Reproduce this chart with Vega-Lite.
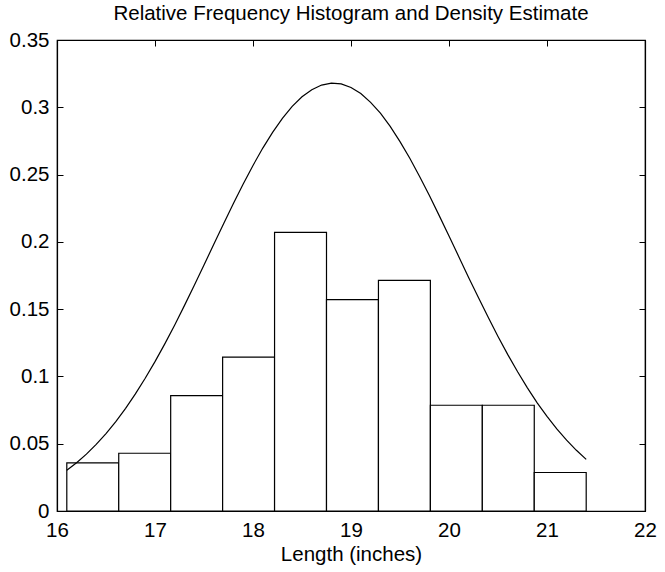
{
  "$schema": "https://vega.github.io/schema/vega-lite/v6.json",
  "width": 588,
  "height": 471,
  "autosize": {"type": "none"},
  "padding": {"left": 57, "top": 40, "right": 20, "bottom": 61},
  "background": "white",
  "title": {
    "text": "Relative Frequency Histogram and Density Estimate",
    "font": "Liberation Sans",
    "fontSize": 20.5,
    "fontWeight": "normal",
    "color": "black",
    "anchor": "middle",
    "offset": 6
  },
  "config": {
    "view": {"stroke": "black", "strokeWidth": 1.2},
    "axis": {
      "grid": false,
      "labelFlush": false,
      "labelOverlap": false,
      "domainColor": "black",
      "domainWidth": 1.2,
      "tickColor": "black",
      "tickWidth": 1,
      "labelFont": "Liberation Sans",
      "labelFontSize": 20.5,
      "labelColor": "black",
      "titleFont": "Liberation Sans",
      "titleFontSize": 20.5,
      "titleFontWeight": "normal",
      "titleColor": "black"
    }
  },
  "datasets": {
    "bins": [
      {"bin_start": 16.1, "bin_end": 16.63, "rel_freq": 0.0357},
      {"bin_start": 16.63, "bin_end": 17.16, "rel_freq": 0.0429},
      {"bin_start": 17.16, "bin_end": 17.69, "rel_freq": 0.0857},
      {"bin_start": 17.69, "bin_end": 18.22, "rel_freq": 0.1143},
      {"bin_start": 18.22, "bin_end": 18.75, "rel_freq": 0.2071},
      {"bin_start": 18.75, "bin_end": 19.28, "rel_freq": 0.1571},
      {"bin_start": 19.28, "bin_end": 19.81, "rel_freq": 0.1714},
      {"bin_start": 19.81, "bin_end": 20.34, "rel_freq": 0.0786},
      {"bin_start": 20.34, "bin_end": 20.87, "rel_freq": 0.0786},
      {"bin_start": 20.87, "bin_end": 21.4, "rel_freq": 0.0286}
    ],
    "density": [
      {"length": 16.1, "density": 0.0303},
      {"length": 16.2, "density": 0.0359},
      {"length": 16.3, "density": 0.0423},
      {"length": 16.4, "density": 0.0495},
      {"length": 16.5, "density": 0.0575},
      {"length": 16.6, "density": 0.0664},
      {"length": 16.7, "density": 0.0763},
      {"length": 16.8, "density": 0.087},
      {"length": 16.9, "density": 0.0986},
      {"length": 17.0, "density": 0.111},
      {"length": 17.1, "density": 0.1242},
      {"length": 17.2, "density": 0.1381},
      {"length": 17.3, "density": 0.1526},
      {"length": 17.4, "density": 0.1676},
      {"length": 17.5, "density": 0.1828},
      {"length": 17.6, "density": 0.1982},
      {"length": 17.7, "density": 0.2135},
      {"length": 17.8, "density": 0.2285},
      {"length": 17.9, "density": 0.243},
      {"length": 18.0, "density": 0.2568},
      {"length": 18.1, "density": 0.2697},
      {"length": 18.2, "density": 0.2814},
      {"length": 18.3, "density": 0.2918},
      {"length": 18.4, "density": 0.3007},
      {"length": 18.5, "density": 0.3078},
      {"length": 18.6, "density": 0.3131},
      {"length": 18.7, "density": 0.3165},
      {"length": 18.8, "density": 0.318},
      {"length": 18.9, "density": 0.3174},
      {"length": 19.0, "density": 0.3147},
      {"length": 19.1, "density": 0.3102},
      {"length": 19.2, "density": 0.3037},
      {"length": 19.3, "density": 0.2956},
      {"length": 19.4, "density": 0.2858},
      {"length": 19.5, "density": 0.2745},
      {"length": 19.6, "density": 0.2621},
      {"length": 19.7, "density": 0.2486},
      {"length": 19.8, "density": 0.2344},
      {"length": 19.9, "density": 0.2195},
      {"length": 20.0, "density": 0.2043},
      {"length": 20.1, "density": 0.189},
      {"length": 20.2, "density": 0.1736},
      {"length": 20.3, "density": 0.1586},
      {"length": 20.4, "density": 0.1439},
      {"length": 20.5, "density": 0.1297},
      {"length": 20.6, "density": 0.1162},
      {"length": 20.7, "density": 0.1035},
      {"length": 20.8, "density": 0.0915},
      {"length": 20.9, "density": 0.0804},
      {"length": 21.0, "density": 0.0703},
      {"length": 21.1, "density": 0.061},
      {"length": 21.2, "density": 0.0526},
      {"length": 21.3, "density": 0.0451},
      {"length": 21.4, "density": 0.0384}
    ]
  },
  "layer": [
    {
      "data": {"name": "bins"},
      "mark": {"type": "rect", "fill": "white", "stroke": "black", "strokeWidth": 1.2},
      "encoding": {
        "x": {
          "field": "bin_start",
          "type": "quantitative",
          "scale": {"domain": [16, 22], "nice": false, "zero": false},
          "axis": {
            "orient": "bottom",
            "values": [16, 17, 18, 19, 20, 21, 22],
            "format": "d",
            "tickSize": -6,
            "labelPadding": 15,
            "title": "Length (inches)",
            "titlePadding": 4
          }
        },
        "x2": {"field": "bin_end"},
        "y": {
          "field": "rel_freq",
          "type": "quantitative",
          "scale": {"domain": [0, 0.35], "nice": false},
          "axis": {
            "orient": "left",
            "values": [0, 0.05, 0.1, 0.15, 0.2, 0.25, 0.3, 0.35],
            "format": ".2~f",
            "tickSize": -6,
            "labelPadding": 14,
            "title": null
          }
        },
        "y2": {"datum": 0}
      }
    },
    {
      "data": {"name": "density"},
      "mark": {"type": "line", "color": "black", "strokeWidth": 1.2},
      "encoding": {
        "x": {
          "field": "length",
          "type": "quantitative",
          "axis": {
            "orient": "top",
            "values": [16, 17, 18, 19, 20, 21, 22],
            "tickSize": -6,
            "labels": false,
            "title": null
          }
        },
        "y": {
          "field": "density",
          "type": "quantitative",
          "axis": {
            "orient": "right",
            "values": [0, 0.05, 0.1, 0.15, 0.2, 0.25, 0.3, 0.35],
            "tickSize": -6,
            "labels": false,
            "title": null
          }
        }
      }
    }
  ]
}
